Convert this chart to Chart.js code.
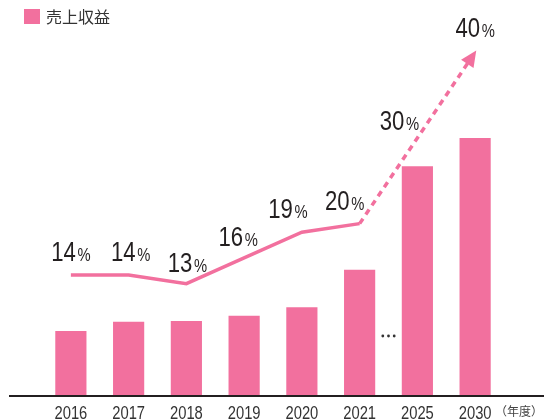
<!DOCTYPE html>
<html>
<head>
<meta charset="utf-8">
<script src="https://cdn.jsdelivr.net/npm/chart.js@4.4.1/dist/chart.umd.min.js"></script>
<style>
  body { margin: 0; background: #fff; }
  #wrap { width: 544px; height: 420px; }
</style>
</head>
<body>
<div id="wrap"><canvas id="myCanvas" width="544" height="420"></canvas></div>
<script>
// values
const years = ["2016", "2017", "2018", "2019", "2020", "2021", "2025", "2030"];
const revenue = [17, 19.4, 19.6, 21, 23.3, 33.2, 60.7, 68.2];
const growth = [14, 14, 13, 16, 19, 20, 30, 40];
const legendText = "売上収益";
const unitText = "（年度）";

const pink = "#f2709e";
const sans = "'Liberation Sans', Arial, sans-serif";
const cjk = "'Noto Sans CJK JP', sans-serif";
const squeeze = 0.82; // no condensed face installed, so narrow the glyphs by hand

// label placement around each line point (dx, dy to label centre)
const labelShift = [[0, -24], [2, -24], [1, -21], [-6, -22], [-14, -24], [-15, -23], [-18, -18], [0, -25]];

// draw text condensed horizontally, centred on cx
function narrowText(ctx, parts, cx, base, gap) {
  let total = 0;
  const widths = parts.map((p) => {
    ctx.font = p.font;
    const w = ctx.measureText(p.text).width;
    total += w;
    return w;
  });
  total += gap * (parts.length - 1);
  ctx.save();
  ctx.translate(cx, base);
  ctx.scale(squeeze, 1);
  let x = -total / 2;
  parts.forEach((p, i) => {
    ctx.font = p.font;
    ctx.fillText(p.text, x, 0);
    x += widths[i] + gap;
  });
  ctx.restore();
}

const decor = {
  id: "decor",
  afterDatasetsDraw(chart) {
    const ctx = chart.ctx;
    const area = chart.chartArea;
    const xs = chart.scales.x;
    const pts = chart.getDatasetMeta(0).data;

    // arrow head at end of dashed line
    const a = pts[pts.length - 2], b = pts[pts.length - 1];
    const ang = Math.atan2(b.y - a.y, b.x - a.x);
    ctx.save();
    ctx.fillStyle = pink;
    ctx.translate(b.x, b.y);
    ctx.rotate(ang);
    ctx.beginPath();
    ctx.moveTo(2, 0);
    ctx.lineTo(-14, -7.5);
    ctx.lineTo(-14, 7.5);
    ctx.closePath();
    ctx.fill();
    ctx.restore();

    ctx.save();
    ctx.textBaseline = "alphabetic";
    ctx.textAlign = "left";

    // percent labels
    ctx.fillStyle = "#231f20";
    for (let i = 0; i < pts.length; i++) {
      narrowText(ctx, [
        { text: String(growth[i]), font: "27px " + sans },
        { text: "%", font: "18px " + sans }
      ], pts[i].x + labelShift[i][0], pts[i].y + labelShift[i][1] + 9.7, 2);
    }

    // year labels under the axis
    ctx.fillStyle = "#333";
    years.forEach((y, i) => {
      narrowText(ctx, [{ text: y, font: "18px " + sans }], xs.getPixelForValue(i), area.bottom + 23.5, 0);
    });

    // axis line
    ctx.fillStyle = "#231f20";
    ctx.fillRect(9, area.bottom, chart.width - 9, 2);

    // dots between 2021 and 2025
    const mid = (xs.getPixelForValue(5) + xs.getPixelForValue(6)) / 2;
    ctx.fillStyle = "#333";
    for (let k = -1; k <= 1; k++) {
      ctx.beginPath();
      ctx.arc(mid + k * 5.7, 336, 1.4, 0, Math.PI * 2);
      ctx.fill();
    }

    // unit label
    ctx.fillStyle = "#444";
    ctx.font = "12px " + cjk;
    ctx.textBaseline = "middle";
    ctx.textAlign = "right";
    ctx.fillText(unitText, 543, 411);

    // legend
    ctx.fillStyle = pink;
    ctx.fillRect(24, 9, 16, 15);
    ctx.fillStyle = "#333";
    ctx.font = "16px " + cjk;
    ctx.textAlign = "left";
    ctx.fillText(legendText, 46, 17);
    ctx.restore();
  }
};

new Chart(document.getElementById("myCanvas"), {
  type: "bar",
  data: {
    labels: years,
    datasets: [
      {
        type: "line",
        data: growth,
        yAxisID: "y1",
        order: 0,
        borderColor: pink,
        borderWidth: 3.5,
        pointRadius: 0,
        tension: 0,
        segment: {
          borderDash: (c) => (c.p0DataIndex >= 5 ? [6, 5] : undefined)
        }
      },
      {
        type: "bar",
        label: legendText,
        data: revenue,
        yAxisID: "y",
        order: 1,
        backgroundColor: pink,
        barPercentage: 0.54,
        categoryPercentage: 1
      }
    ]
  },
  options: {
    responsive: false,
    animation: false,
    layout: { padding: { left: 42, right: 40, top: 18, bottom: 0 } },
    plugins: {
      legend: { display: false },
      tooltip: { enabled: false }
    },
    scales: {
      x: {
        type: "category",
        offset: true,
        grid: { display: false },
        border: { display: false },
        ticks: { display: false },
        afterFit: (s) => { s.height = 25; }
      },
      y: { display: false, min: 0, max: 100 },
      y1: { display: false, min: 0, max: 44 }
    }
  },
  plugins: [decor]
});
</script>
</body>
</html>
